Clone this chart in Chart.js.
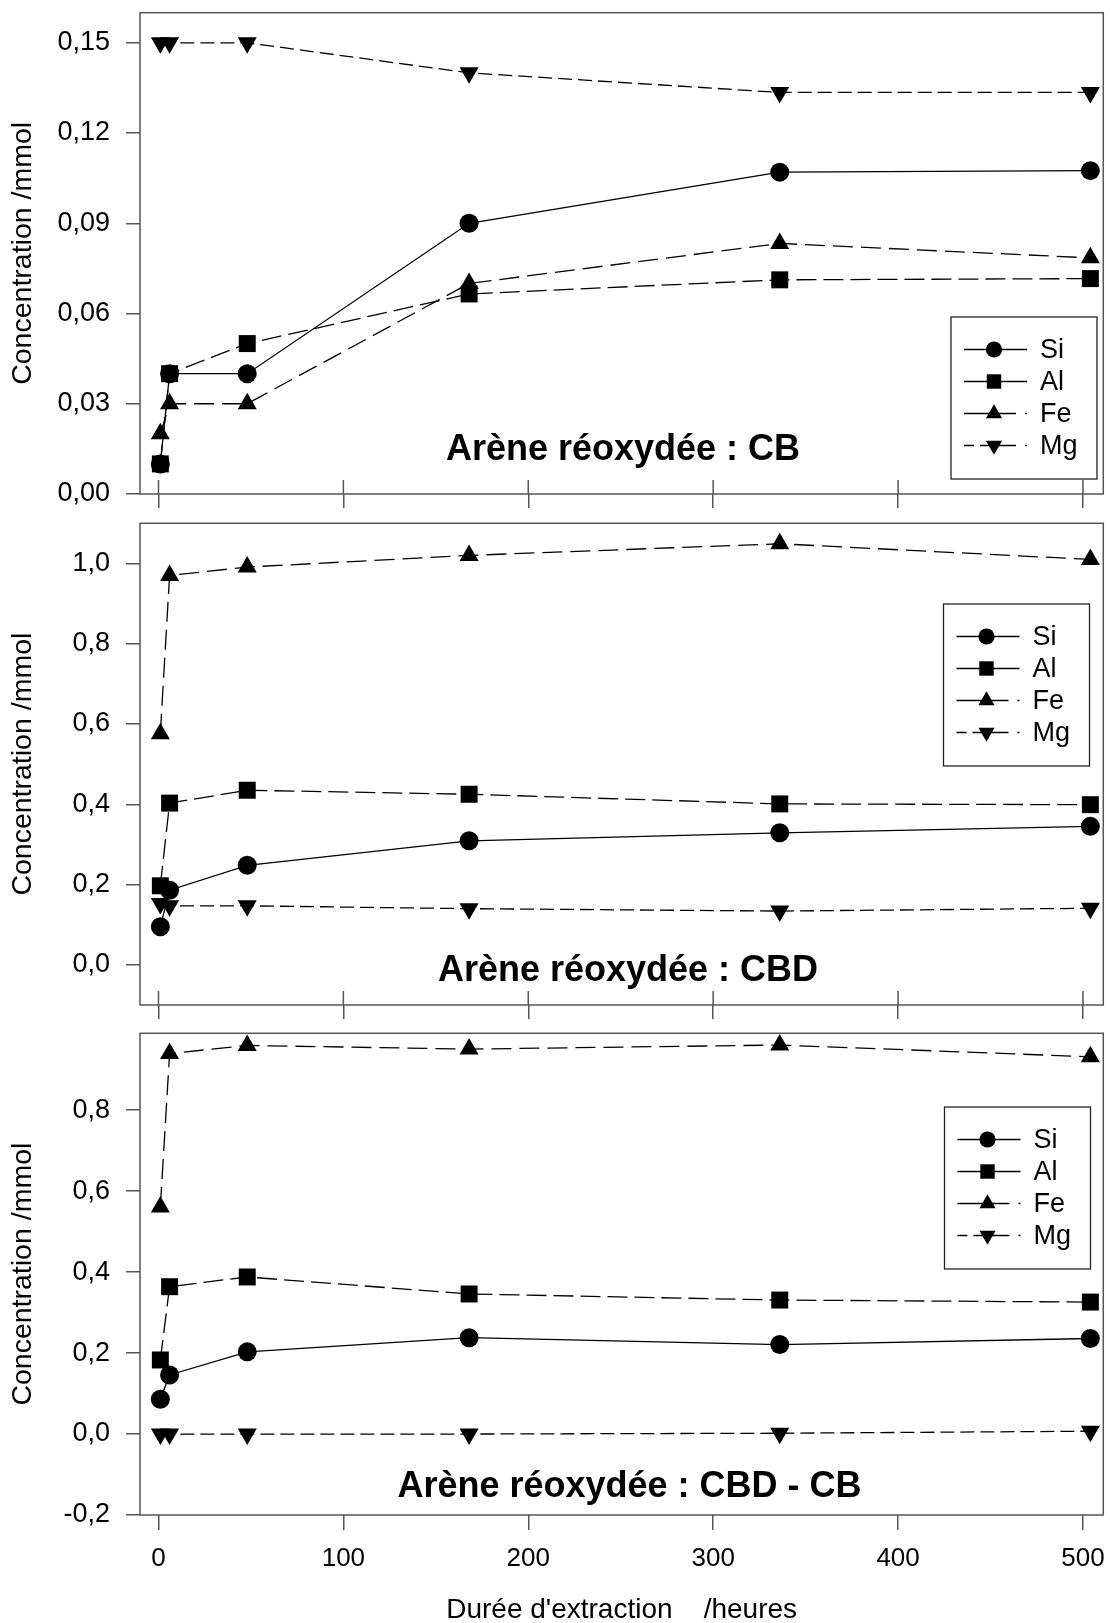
<!DOCTYPE html>
<html>
<head>
<meta charset="utf-8">
<script src="https://cdn.jsdelivr.net/npm/chart.js@4.4.1/dist/chart.umd.min.js"></script>
<style>
body { margin: 0; background: #fff; width: 1110px; height: 1623px; position: relative; overflow: hidden; }
canvas { position: absolute; left: 0; }
</style>
</head>
<body>
<canvas id="chartCB" width="1110" height="520" style="top:0px"></canvas>
<canvas id="chartCBD" width="1110" height="510" style="top:520px"></canvas>
<canvas id="chartDiff" width="1110" height="593" style="top:1030px"></canvas>
<script>
// durée d'extraction (heures)
const hours = [1, 6, 48, 168, 336, 504];
const xTicks = [0, 100, 200, 300, 400, 500];
const elements = ['Si', 'Al', 'Fe', 'Mg'];

// Arène réoxydée : CB
const siCB = [0.010, 0.040, 0.040, 0.090, 0.107, 0.1075];
const alCB = [0.010, 0.040, 0.050, 0.0665, 0.0712, 0.0716];
const feCB = [0.020, 0.030, 0.030, 0.070, 0.0833, 0.0785];
const mgCB = [0.150, 0.150, 0.150, 0.140, 0.1335, 0.1335];
const yTicksCB = [0, 0.03, 0.06, 0.09, 0.12, 0.15];

// Arène réoxydée : CBD
const siCBD = [0.095, 0.186, 0.248, 0.309, 0.329, 0.345];
const alCBD = [0.197, 0.403, 0.435, 0.425, 0.401, 0.399];
const feCBD = [0.576, 0.970, 0.991, 1.020, 1.049, 1.010];
const mgCBD = [0.153, 0.147, 0.147, 0.140, 0.134, 0.141];
const yTicksCBD = [0, 0.2, 0.4, 0.6, 0.8, 1.0];

// Arène réoxydée : CBD - CB
const siDiff = [0.086, 0.146, 0.203, 0.238, 0.221, 0.236];
const alDiff = [0.183, 0.364, 0.388, 0.346, 0.331, 0.326];
const feDiff = [0.561, 0.940, 0.960, 0.951, 0.961, 0.932];
const mgDiff = [0.000, 0.000, 0.000, 0.000, 0.002, 0.007];
const yTicksDiff = [-0.2, 0, 0.2, 0.4, 0.6, 0.8];

const FONT = "'Liberation Sans', Arial, sans-serif";
const AXIS = '#555';

const styles = {
    Si: { pointStyle: 'circle', radius: 9.5, rotation: 0, dash: [], legendDash: [] },
    Al: { pointStyle: 'rect', radius: 12, rotation: 0, dash: [20, 7], legendDash: [] },
    Fe: { pointStyle: 'triangle', radius: 11, rotation: 0, dash: [20, 8], legendDash: [52, 9, 3, 60] },
    Mg: { pointStyle: 'triangle', radius: 11, rotation: 180, dash: [14, 6], legendDash: [10, 6, 36, 9, 3, 60] }
};

function makeDatasets(values) {
    return elements.map((el, k) => {
        const s = styles[el];
        return {
            label: el,
            data: hours.map((h, i) => ({ x: h, y: values[k][i] })),
            borderColor: '#000',
            backgroundColor: '#000',
            borderWidth: 1.3,
            borderDash: s.dash,
            pointStyle: s.pointStyle,
            pointRadius: s.radius,
            pointRotation: s.rotation,
            pointBorderWidth: 0,
            pointBackgroundColor: '#000',
            tension: 0,
            fill: false,
            clip: false,
            legendDash: s.legendDash
        };
    });
}

function noPad(s) {
    s.paddingTop = 0;
    s.paddingBottom = 0;
    s.paddingLeft = 0;
    s.paddingRight = 0;
}

// cadre + petites graduations internes de l'axe x
const framePlugin = {
    id: 'frame',
    beforeDatasetsDraw(chart, args, opts) {
        const { ctx, chartArea: a } = chart;
        ctx.save();
        ctx.strokeStyle = AXIS;
        ctx.lineWidth = 1.5;
        ctx.strokeRect(a.left, a.top, a.right - a.left, a.bottom - a.top);
        if (opts.innerTicks) {
            const xs = chart.scales.x;
            xs.ticks.forEach(t => {
                const px = xs.getPixelForValue(t.value);
                ctx.beginPath();
                ctx.moveTo(px, a.bottom - 14);
                ctx.lineTo(px, a.bottom);
                ctx.stroke();
            });
        }
        ctx.restore();
    }
};

// titre du panneau + légende encadrée
const panelPlugin = {
    id: 'panel',
    afterDatasetsDraw(chart, args, opts) {
        const { ctx } = chart;
        ctx.save();
        ctx.fillStyle = '#000';
        ctx.font = 'bold 36px ' + FONT;
        ctx.textAlign = 'center';
        ctx.textBaseline = 'alphabetic';
        ctx.fillText(opts.title, opts.titleX, opts.titleY);

        const lg = opts.legend;
        ctx.strokeStyle = '#222';
        ctx.lineWidth = 1.3;
        ctx.strokeRect(lg.left, lg.top, 146, 162);
        ctx.font = '27px ' + FONT;
        ctx.textAlign = 'left';
        ctx.textBaseline = 'middle';
        chart.data.datasets.forEach((ds, i) => {
            const y = lg.top + 32.5 + i * 32;
            ctx.strokeStyle = '#000';
            ctx.lineWidth = 1.3;
            ctx.setLineDash(ds.legendDash);
            ctx.beginPath();
            ctx.moveTo(lg.left + 13, y);
            ctx.lineTo(lg.left + 76, y);
            ctx.stroke();
            ctx.setLineDash([]);
            ctx.fillStyle = '#000';
            Chart.helpers.drawPoint(ctx, {
                pointStyle: ds.pointStyle,
                rotation: ds.pointRotation,
                radius: ds.pointRadius * 0.85,
                borderWidth: 0
            }, lg.left + 43, y);
            ctx.fillText(ds.label, lg.left + 89, y + 1);
        });
        ctx.restore();
    }
};

function makeChart(id, values, cfg) {
    return new Chart(document.getElementById(id), {
        type: 'line',
        data: { datasets: makeDatasets(values) },
        options: {
            responsive: false,
            animation: false,
            devicePixelRatio: 1,
            layout: { autoPadding: false, padding: { top: cfg.padTop, right: 6.7, left: 0, bottom: 0 } },
            scales: {
                x: {
                    type: 'linear',
                    min: -10,
                    max: 511,
                    afterBuildTicks: s => { s.ticks = xTicks.map(v => ({ value: v })); },
                    afterFit: s => { s.height = cfg.xHeight; noPad(s); },
                    border: { display: false },
                    grid: { drawOnChartArea: false, drawTicks: true, tickLength: cfg.showX ? 15 : 14, color: AXIS, lineWidth: 1.5 },
                    ticks: { display: cfg.showX, color: '#000', font: { family: FONT, size: 26 }, padding: 13, maxRotation: 0 },
                    title: {
                        display: cfg.showX,
                        text: "Durée d'extraction    /heures",
                        color: '#000',
                        font: { family: FONT, size: 28 },
                        padding: { top: 0, bottom: -4 }
                    }
                },
                y: {
                    min: cfg.yMin,
                    max: cfg.yMax,
                    afterBuildTicks: s => { s.ticks = cfg.yTicks.map(v => ({ value: v })); },
                    afterFit: s => { s.width = 140; noPad(s); },
                    border: { display: false },
                    grid: { drawOnChartArea: false, drawTicks: true, tickLength: 14, color: AXIS, lineWidth: 1.5 },
                    ticks: {
                        color: '#000',
                        font: { family: FONT, size: 27 },
                        padding: 16,
                        callback: v => v.toFixed(cfg.dec).replace('.', ',')
                    },
                    title: {
                        display: true,
                        text: 'Concentration /mmol',
                        color: '#000',
                        font: { family: FONT, size: 28.5 },
                        padding: { top: 6, bottom: 0 }
                    }
                }
            },
            plugins: {
                legend: { display: false },
                tooltip: { enabled: false },
                frame: { innerTicks: !cfg.showX },
                panel: { title: cfg.title, titleX: cfg.titleX, titleY: cfg.titleY, legend: cfg.legend }
            }
        },
        plugins: [framePlugin, panelPlugin]
    });
}

makeChart('chartCB', [siCB, alCB, feCB, mgCB], {
    padTop: 12.7, xHeight: 26, showX: false,
    yMin: 0, yMax: 0.16, yTicks: yTicksCB, dec: 2,
    title: 'Arène réoxydée : CB', titleX: 623, titleY: 460,
    legend: { left: 951, top: 317 }
});

makeChart('chartCBD', [siCBD, alCBD, feCBD, mgCBD], {
    padTop: 3.3, xHeight: 25, showX: false,
    yMin: -0.1, yMax: 1.1, yTicks: yTicksCBD, dec: 1,
    title: 'Arène réoxydée : CBD', titleX: 628, titleY: 461,
    legend: { left: 943.5, top: 84 }
});

makeChart('chartDiff', [siDiff, alDiff, feDiff, mgDiff], {
    padTop: 3.3, xHeight: 108, showX: true,
    yMin: -0.2, yMax: 0.99, yTicks: yTicksDiff, dec: 1,
    title: 'Arène réoxydée : CBD - CB', titleX: 629.5, titleY: 467,
    legend: { left: 944.5, top: 77 }
});
</script>
</body>
</html>
